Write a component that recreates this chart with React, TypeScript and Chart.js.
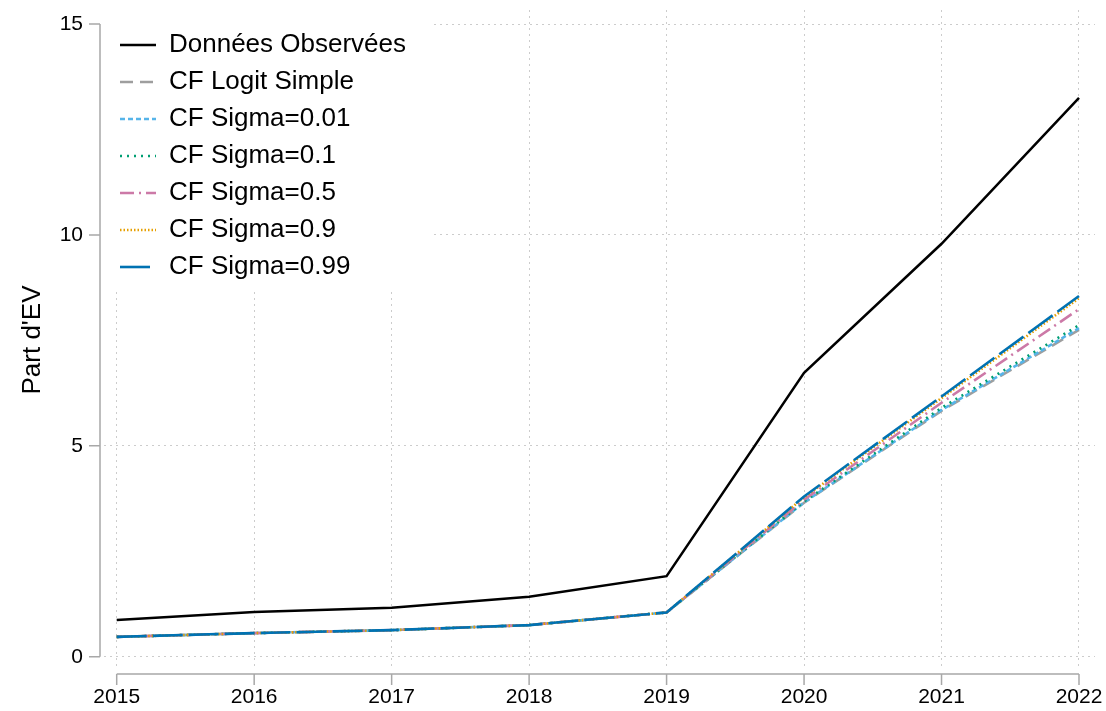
import React, { useEffect, useRef } from "react";
import { Chart, registerables } from "chart.js";

Chart.register(...registerables);

const years = [2015, 2016, 2017, 2018, 2019, 2020, 2021, 2022];
const yTicks = [0, 5, 10, 15];

const observed = [0.87, 1.06, 1.16, 1.42, 1.91, 6.73, 9.79, 13.25];
const cfLogit = [0.47, 0.56, 0.63, 0.75, 1.05, 3.65, 5.83, 7.75];
const cfSigma001 = [0.47, 0.56, 0.63, 0.75, 1.05, 3.66, 5.85, 7.79];
const cfSigma01 = [0.47, 0.56, 0.63, 0.75, 1.05, 3.68, 5.9, 7.86];
const cfSigma05 = [0.47, 0.56, 0.63, 0.75, 1.05, 3.72, 6.02, 8.24];
const cfSigma09 = [0.47, 0.56, 0.63, 0.75, 1.05, 3.78, 6.13, 8.5];
const cfSigma099 = [0.47, 0.56, 0.63, 0.75, 1.05, 3.8, 6.17, 8.55];

const seriesLabels = [
  "Données Observées",
  "CF Logit Simple",
  "CF Sigma=0.01",
  "CF Sigma=0.1",
  "CF Sigma=0.5",
  "CF Sigma=0.9",
  "CF Sigma=0.99",
];
const seriesValues = [observed, cfLogit, cfSigma001, cfSigma01, cfSigma05, cfSigma09, cfSigma099];
const seriesColors = ["#000000", "#9e9e9e", "#56b4e9", "#009e73", "#cc79a7", "#e69f00", "#0072b2"];
const seriesDash: number[][] = [[], [13, 7], [5, 3], [2, 5], [14, 5, 2, 5], [1.5, 2], [30, 6]];
const seriesOrder = [0, 6, 5, 4, 3, 2, 1];

const FONT = "'Liberation Sans', Arial, sans-serif";
const AXIS_COLOR = "#a8a8a8";
const GRID_COLOR = "#cccccc";

const axesPlugin = {
  id: "stataAxes",
  afterDraw(chart: any) {
    const { ctx, chartArea, scales } = chart;
    const x = scales.x;
    const y = scales.y;
    ctx.save();
    ctx.strokeStyle = AXIS_COLOR;
    ctx.lineWidth = 1.5;
    ctx.setLineDash([]);
    ctx.beginPath();
    const ax = chartArea.left - 4;
    ctx.moveTo(ax, y.getPixelForValue(yTicks[0]));
    ctx.lineTo(ax, y.getPixelForValue(yTicks[yTicks.length - 1]));
    yTicks.forEach((v) => {
      const py = y.getPixelForValue(v);
      ctx.moveTo(ax, py);
      ctx.lineTo(ax - 11, py);
    });
    const ay = chartArea.bottom + 4;
    ctx.moveTo(x.getPixelForValue(years[0]), ay);
    ctx.lineTo(x.getPixelForValue(years[years.length - 1]), ay);
    years.forEach((v) => {
      const px = x.getPixelForValue(v);
      ctx.moveTo(px, ay);
      ctx.lineTo(px, ay + 11);
    });
    ctx.stroke();
    ctx.restore();
  },
};

const legendBoxPlugin = {
  id: "legendBox",
  afterLayout(chart: any) {
    const lg = chart.legend;
    if (lg) {
      lg.left = chart.chartArea.left + 5;
      lg.top = chart.chartArea.top + 11;
    }
  },
  beforeDatasetsDraw(chart: any) {
    const lg = chart.legend;
    if (!lg || !lg.legendHitBoxes || !lg.legendHitBoxes.length) return;
    const { ctx, chartArea } = chart;
    const boxes = lg.legendHitBoxes;
    let right = 0;
    let bottom = 0;
    boxes.forEach((h: any) => {
      right = Math.max(right, h.left + h.width);
      bottom = Math.max(bottom, h.top + h.height);
    });
    ctx.save();
    ctx.fillStyle = "#ffffff";
    ctx.fillRect(chartArea.left, chartArea.top, right + 25 - chartArea.left, bottom + 9 - chartArea.top);
    ctx.restore();
    lg.draw();
  },
};

export default function App() {
  const canvasRef = useRef<HTMLCanvasElement | null>(null);

  useEffect(() => {
    document.body.style.margin = "0";
    document.body.style.overflow = "hidden";
    const canvas = canvasRef.current;
    if (!canvas) return;
    Chart.defaults.font.family = FONT;
    Chart.defaults.color = "#000000";

    const datasets = seriesLabels.map((label, i) => ({
      label,
      data: years.map((yr, j) => ({ x: yr, y: seriesValues[i][j] })),
      borderColor: seriesColors[i],
      backgroundColor: seriesColors[i],
      borderDash: seriesDash[i],
      borderWidth: i === 0 ? 2.5 : 2.6,
      pointRadius: 0,
      pointHoverRadius: 0,
      fill: false,
      tension: 0,
      order: seriesOrder[i],
    }));

    const chart = new Chart(canvas, {
      type: "line",
      data: { datasets },
      options: {
        animation: false,
        responsive: false,
        maintainAspectRatio: false,
        events: [],
        layout: { autoPadding: false, padding: { top: 10, right: 11, left: 0, bottom: 0 } },
        plugins: {
          tooltip: { enabled: false },
          legend: {
            position: "chartArea",
            align: "start",
            labels: {
              usePointStyle: true,
              pointStyleWidth: 36,
              padding: 11,
              color: "#000000",
              font: { size: 26, family: FONT },
              sort: (a: any, b: any) => a.datasetIndex - b.datasetIndex,
              generateLabels: (ch: any) =>
                ch.data.datasets.map((ds: any, i: number) => ({
                  text: ds.label,
                  fillStyle: ds.borderColor,
                  strokeStyle: ds.borderColor,
                  lineWidth: 2.6,
                  lineDash: ds.borderDash,
                  pointStyle: "line",
                  hidden: false,
                  datasetIndex: i,
                  fontColor: "#000000",
                })),
            },
          },
        },
        scales: {
          x: {
            type: "linear",
            min: 2014.9076,
            max: 2022.1164,
            afterBuildTicks: (scale: any) => {
              scale.ticks = years.map((v) => ({ value: v }));
            },
            afterFit: (scale: any) => {
              scale.height = 41;
              scale.paddingLeft = 0;
              scale.paddingRight = 0;
            },
            grid: {
              display: true,
              drawOnChartArea: true,
              drawTicks: false,
              color: GRID_COLOR,
              lineWidth: 1,
            },
            border: { display: false, dash: [2, 4] },
            ticks: {
              autoSkip: false,
              maxRotation: 0,
              minRotation: 0,
              padding: 15,
              color: "#000000",
              font: { size: 21, family: FONT },
              callback: (v: any) => String(v),
            },
          },
          y: {
            type: "linear",
            min: -0.315,
            max: 15.332,
            afterBuildTicks: (scale: any) => {
              scale.ticks = yTicks.map((v) => ({ value: v }));
            },
            afterFit: (scale: any) => {
              scale.width = 104;
              scale.paddingTop = 0;
              scale.paddingBottom = 0;
            },
            grid: {
              display: true,
              drawOnChartArea: true,
              drawTicks: false,
              color: GRID_COLOR,
              lineWidth: 1,
            },
            border: { display: false, dash: [2, 4] },
            ticks: {
              padding: 21,
              color: "#000000",
              font: { size: 21, family: FONT },
              callback: (v: any) => String(v),
            },
            title: {
              display: true,
              text: "Part d'EV",
              color: "#000000",
              font: { size: 26, family: FONT },
              padding: { top: 17, bottom: 0 },
            },
          },
        },
      },
      plugins: [legendBoxPlugin, axesPlugin],
    });

    return () => {
      chart.destroy();
    };
  }, []);

  return (
    <div style={{ width: 1106, height: 711 }}>
      <canvas ref={canvasRef} width={1106} height={711} style={{ display: "block" }} />
    </div>
  );
}
